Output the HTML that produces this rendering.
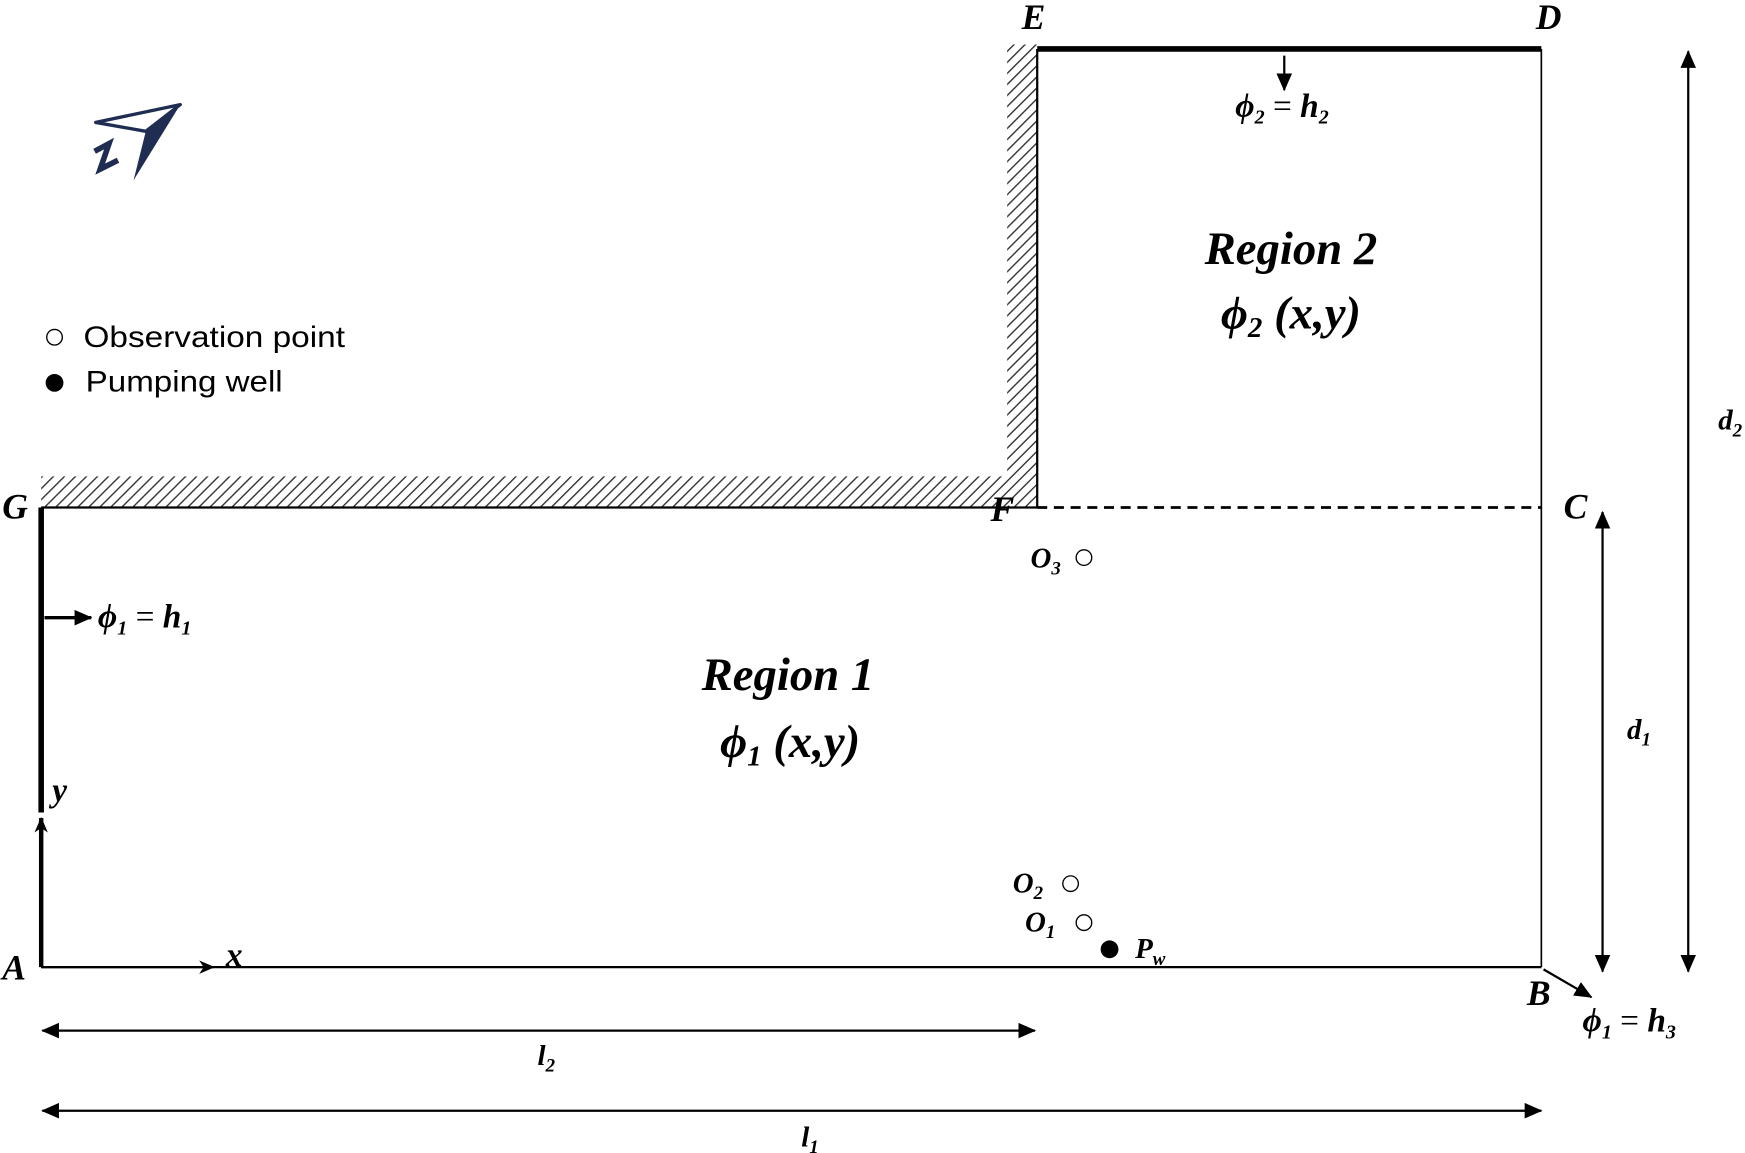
<!DOCTYPE html>
<html><head><meta charset="utf-8"><style>
html,body{margin:0;padding:0;background:#fff;}
svg{display:block;}
.t{font-family:"Liberation Serif",serif;font-style:italic;font-weight:bold;fill:#000;}
.s{font-family:"Liberation Sans",sans-serif;fill:#000;}
</style></head><body>
<svg width="1745" height="1153" viewBox="0 0 1568 1036" preserveAspectRatio="none" xmlns="http://www.w3.org/2000/svg">
<defs>
<pattern id="h" width="7" height="7" patternUnits="userSpaceOnUse" patternTransform="rotate(45)">
<rect width="7" height="7" fill="#fff"/><line x1="0" y1="0" x2="0" y2="7" stroke="#333" stroke-width="2.5"/>
</pattern>
<marker id="a" markerWidth="14" markerHeight="12" refX="13" refY="6" orient="auto" markerUnits="userSpaceOnUse"><path d="M0,0 L14,6 L0,12 L4,6 z" fill="#000"/></marker>
<marker id="b" markerWidth="16" markerHeight="14" refX="15" refY="7" orient="auto" markerUnits="userSpaceOnUse"><path d="M0,0 L16,7 L0,14 z" fill="#000"/></marker>
<marker id="bs" markerWidth="16" markerHeight="14" refX="1" refY="7" orient="auto" markerUnits="userSpaceOnUse"><path d="M16,0 L0,7 L16,14 z" fill="#000"/></marker>
</defs>
<rect x="37" y="428" width="895" height="28" fill="url(#h)"/>
<rect x="905" y="40" width="27" height="416" fill="url(#h)"/>
<line x1="932" y1="44" x2="932" y2="456" stroke="#000" stroke-width="2"/>
<line x1="37" y1="456" x2="932" y2="456" stroke="#000" stroke-width="2"/>
<line x1="932" y1="44" x2="1385" y2="44" stroke="#000" stroke-width="5"/>
<line x1="1385" y1="44" x2="1385" y2="869" stroke="#000" stroke-width="1.5"/>
<line x1="932" y1="456" x2="1385" y2="456" stroke="#000" stroke-width="2.5" stroke-dasharray="9,6"/>
<line x1="37" y1="869" x2="1385" y2="869" stroke="#000" stroke-width="2"/>
<line x1="37" y1="456" x2="37" y2="730" stroke="#000" stroke-width="5"/>
<line x1="37" y1="869" x2="37" y2="735" stroke="#000" stroke-width="4" marker-end="url(#a)"/>
<line x1="37" y1="869" x2="192" y2="869" stroke="#000" stroke-width="2" marker-end="url(#a)"/>
<line x1="40" y1="555" x2="82" y2="555" stroke="#000" stroke-width="3" marker-end="url(#b)"/>
<line x1="1154" y1="50" x2="1154" y2="81" stroke="#000" stroke-width="2" marker-end="url(#b)"/>
<line x1="1387" y1="871" x2="1430" y2="896" stroke="#000" stroke-width="2" marker-end="url(#b)"/>
<line x1="1517" y1="46" x2="1517" y2="873" stroke="#000" stroke-width="2" marker-start="url(#bs)" marker-end="url(#b)"/>
<line x1="1440" y1="460" x2="1440" y2="873" stroke="#000" stroke-width="2" marker-start="url(#bs)" marker-end="url(#b)"/>
<line x1="38" y1="926" x2="930" y2="926" stroke="#000" stroke-width="2" marker-start="url(#bs)" marker-end="url(#b)"/>
<line x1="38" y1="998" x2="1385" y2="998" stroke="#000" stroke-width="2" marker-start="url(#bs)" marker-end="url(#b)"/>
<polygon points="162,94 86,110 131,118" fill="none" stroke="#1f2d52" stroke-width="3" stroke-linejoin="round"/>
<polygon points="162,94 131,118 120,162" fill="#1f2d52"/>
<polyline points="85,136 98,129 90,152 106,144" fill="none" stroke="#1f2d52" stroke-width="5"/>
<circle cx="49" cy="303" r="7" fill="none" stroke="#000" stroke-width="1.2"/>
<text x="75" y="312" class="s" font-size="27" textLength="235" lengthAdjust="spacingAndGlyphs">Observation point</text>
<circle cx="49" cy="344" r="8" fill="#000"/>
<text x="77" y="352" class="s" font-size="27" textLength="177" lengthAdjust="spacingAndGlyphs">Pumping well</text>
<text x="918" y="26" class="t" font-size="32">E</text>
<text x="1380" y="26" class="t" font-size="32">D</text>
<text x="2" y="466" class="t" font-size="32">G</text>
<text x="890" y="468" class="t" font-size="32">F</text>
<text x="1405" y="466" class="t" font-size="32">C</text>
<text x="2" y="880" class="t" font-size="32">A</text>
<text x="1372" y="903" class="t" font-size="32">B</text>
<text x="47" y="720" class="t" font-size="30">y</text>
<text x="203" y="868" class="t" font-size="30">x</text>
<text x="1160" y="237" class="t" font-size="42" text-anchor="middle">Region 2</text>
<text x="1160" y="295" class="t" font-size="42" text-anchor="middle">ϕ<tspan font-size="26" dy="8">2</tspan><tspan dy="-8"> (x,y)</tspan></text>
<text x="708" y="620" class="t" font-size="42" text-anchor="middle">Region 1</text>
<text x="710" y="680" class="t" font-size="42" text-anchor="middle">ϕ<tspan font-size="26" dy="8">1</tspan><tspan dy="-8"> (x,y)</tspan></text>
<text x="88" y="564" class="t" font-size="30">ϕ<tspan font-size="18" dy="6">1</tspan><tspan dy="-6" font-weight="normal" font-style="normal"> = </tspan>h<tspan font-size="18" dy="6">1</tspan></text>
<text x="1110" y="105" class="t" font-size="30">ϕ<tspan font-size="18" dy="6">2</tspan><tspan dy="-6" font-weight="normal" font-style="normal"> = </tspan>h<tspan font-size="18" dy="6">2</tspan></text>
<text x="1422" y="927" class="t" font-size="30">ϕ<tspan font-size="18" dy="6">1</tspan><tspan dy="-6" font-weight="normal" font-style="normal"> = </tspan>h<tspan font-size="18" dy="6">3</tspan></text>
<text x="1544" y="386" class="t" font-size="26" font-weight="normal">d<tspan font-size="17" dy="6">2</tspan></text>
<text x="1462" y="664" class="t" font-size="26" font-weight="normal">d<tspan font-size="17" dy="6">1</tspan></text>
<text x="483" y="957" class="t" font-size="26" font-weight="normal">l<tspan font-size="17" dy="6">2</tspan></text>
<text x="720" y="1030" class="t" font-size="26" font-weight="normal">l<tspan font-size="17" dy="6">1</tspan></text>
<text x="926" y="510" class="t" font-size="26" font-weight="normal">O<tspan font-size="17" dy="6">3</tspan></text>
<circle cx="974" cy="501" r="7" fill="none" stroke="#000" stroke-width="1.2"/>
<text x="910" y="802" class="t" font-size="26" font-weight="normal">O<tspan font-size="17" dy="6">2</tspan></text>
<circle cx="962" cy="794" r="7" fill="none" stroke="#000" stroke-width="1.2"/>
<text x="921" y="837" class="t" font-size="26" font-weight="normal">O<tspan font-size="17" dy="6">1</tspan></text>
<circle cx="974" cy="829" r="7" fill="none" stroke="#000" stroke-width="1.2"/>
<circle cx="997" cy="853" r="8" fill="#000"/>
<text x="1020" y="861" class="t" font-size="26" font-weight="normal">P<tspan font-size="17" dy="6">w</tspan></text>
</svg>
</body></html>
